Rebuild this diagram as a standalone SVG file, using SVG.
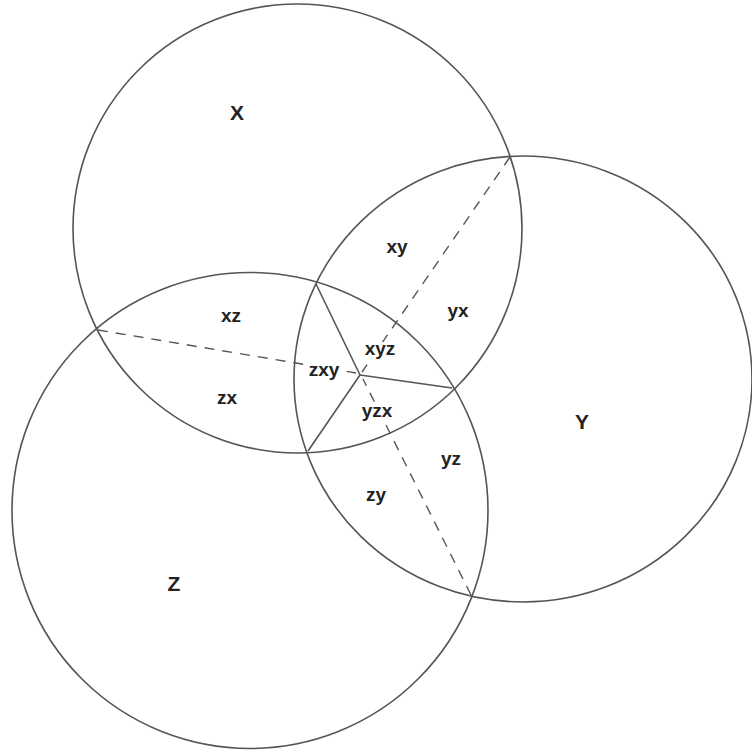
<svg xmlns="http://www.w3.org/2000/svg" width="752" height="755" viewBox="0 0 752 755">
<style>
.c{fill:none;stroke:#555;stroke-width:1.6}
.s{stroke:#555;stroke-width:1.6;fill:none}
.d{stroke:#555;stroke-width:1.4;stroke-dasharray:10 8;fill:none}
.big{font-family:"Liberation Sans",Arial,sans-serif;font-weight:bold;font-size:21px;fill:#222;text-anchor:middle}
.sm{font-family:"Liberation Sans",Arial,sans-serif;font-weight:bold;font-size:19px;fill:#222;text-anchor:middle}
.halo{paint-order:stroke;stroke:#fff;stroke-width:6;stroke-linejoin:round}
</style>
<rect width="752" height="755" fill="#fff"/>
<g id="circleX"><circle class="c" cx="297.5" cy="228.5" r="224.5"/><text class="big" x="237" y="120">X</text></g>
<g id="circleY"><ellipse class="c" cx="523" cy="379" rx="229" ry="223"/><text class="big" x="582" y="429">Y</text></g>
<g id="circleZ"><circle class="c" cx="250" cy="510.5" r="238"/><text class="big" x="174" y="591">Z</text></g>
<g id="connectors">
<line class="d" x1="510" y1="157" x2="362" y2="372"/>
<line class="d" x1="471" y1="595" x2="363" y2="379"/>
<line class="d" x1="98" y1="330" x2="356" y2="373"/>
<line class="s" x1="360" y1="375" x2="316" y2="284"/>
<line class="s" x1="360" y1="375" x2="452" y2="388"/>
<line class="s" x1="360" y1="375" x2="308" y2="451"/>
</g>
<g id="labels">
<text class="sm" x="397" y="253">xy</text>
<text class="sm" x="458" y="317">yx</text>
<text class="sm" x="231" y="322">xz</text>
<text class="sm" x="227" y="404">zx</text>
<text class="sm halo" x="380" y="355">xyz</text>
<text class="sm halo" x="324" y="376">zxy</text>
<text class="sm halo" x="377" y="417">yzx</text>
<text class="sm" x="451" y="465">yz</text>
<text class="sm" x="376" y="501">zy</text>
</g>
</svg>
